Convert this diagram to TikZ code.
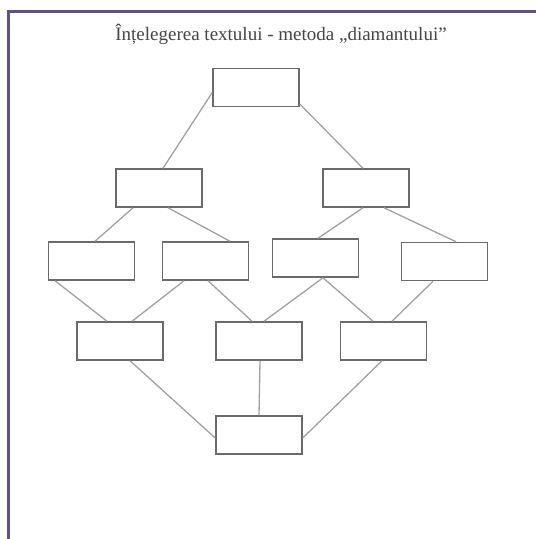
\documentclass[tikz,border=0pt]{standalone}
\usepackage{fontspec}
\setmainfont{Liberation Serif}
\definecolor{framepurple}{HTML}{614F87}
\definecolor{boxgray}{HTML}{6A6A6A}
\definecolor{linkgray}{HTML}{A0A0A0}
\definecolor{titlegray}{HTML}{454545}
\tikzset{
  blank/.style={draw=boxgray, line width=1.5pt, minimum width=86pt, minimum height=38pt, inner sep=0pt, fill=white},
  link/.style={draw=linkgray, line width=1.3pt},
  framestyle/.style={draw=framepurple, line width=3pt}
}
\begin{document}
\begin{tikzpicture}[x=1pt,y=-1pt]
\useasboundingbox (0,0) rectangle (536,539);
\coordinate (fb) at (8,541);
\coordinate (fc) at (8,11);
\coordinate (fr) at (538,11);
\draw[framestyle] (fb) -- (fc) -- (fr);
\node[text=titlegray, anchor=base, inner sep=0pt, font=\fontsize{19}{22}\selectfont] (title) at (281,40) {Înțelegerea textului - metoda „diamantului”};
\node[blank] (T) at (256,87.5) {};
\node[blank] (A) at (159,188) {};
\node[blank] (B) at (366,188) {};
\node[blank] (C1) at (91.5,261) {};
\node[blank] (C2) at (205.5,261) {};
\node[blank] (C3) at (315.5,258) {};
\node[blank] (C4) at (444.5,261.5) {};
\node[blank] (D1) at (120,341) {};
\node[blank] (D2) at (259,341) {};
\node[blank] (D3) at (383.5,341) {};
\node[blank] (E) at (259,435) {};
\draw[link] ([yshift=-5pt]T.west) -- ([xshift=4pt]A.north);
\draw[link] ([yshift=-16.5pt]T.east) -- ([xshift=-3pt]B.north);
\draw[link] ([xshift=-26pt]A.south) -- ([xshift=3.5pt]C1.north);
\draw[link] ([xshift=9pt]A.south) -- ([xshift=24.5pt]C2.north);
\draw[link] ([xshift=-3pt]B.south) -- ([xshift=2.5pt]C3.north);
\draw[link] ([xshift=18pt]B.south) -- ([xshift=11.5pt]C4.north);
\draw[link] ([xshift=-36.5pt]C1.south) -- ([xshift=-13pt]D1.north);
\draw[link] ([xshift=-21.5pt]C2.south) -- ([xshift=12pt]D1.north);
\draw[link] ([xshift=2.5pt]C2.south) -- ([xshift=-7pt]D2.north);
\draw[link] ([xshift=7.5pt]C3.south) -- ([xshift=5pt]D2.north);
\draw[link] ([xshift=7.5pt]C3.south) -- ([xshift=-10.5pt]D3.north);
\draw[link] ([xshift=-11.5pt]C4.south) -- ([xshift=8.5pt]D3.north);
\draw[link] ([xshift=10pt]D1.south) -- ([yshift=-3pt]E.west);
\draw[link] ([xshift=1pt]D2.south) -- (E.north);
\draw[link] ([xshift=-1.5pt]D3.south) -- ([yshift=-3pt]E.east);
\end{tikzpicture}
\end{document}
